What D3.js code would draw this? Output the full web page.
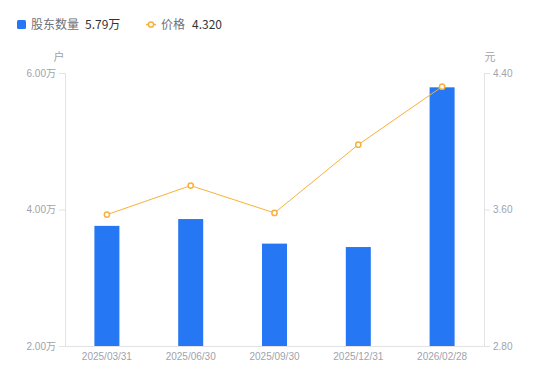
<!DOCTYPE html>
<html><head><meta charset="utf-8">
<script src="https://cdn.jsdelivr.net/npm/d3@7"></script>
<style>body{margin:0;background:#fff;font-family:"Noto Sans CJK SC","Noto Sans",sans-serif;}</style>
</head><body>
<svg id="c" width="550" height="381"></svg>
<script>
const categories = ["2025/03/31","2025/06/30","2025/09/30","2025/12/31","2026/02/28"];
const holders = [3.76, 3.86, 3.50, 3.45, 5.79];   // 万户
const prices = [3.57, 3.74, 3.58, 3.98, 4.32];    // 元
const leftTicks = [2, 4, 6];
const rightTicks = [2.8, 3.6, 4.4];

const svg = d3.select("#c");
const L = 65, R = 484, T = 73, B = 346;
const x = d3.scaleBand().domain(categories).range([L, R]);
const yL = d3.scaleLinear().domain([2, 6]).range([B, T]);
const yR = d3.scaleLinear().domain([2.8, 4.4]).range([B, T]);
const axisColor = "#e3e3e6", tickText = "#a0a3ad";
const numFont = "'Liberation Sans', Arial, 'Noto Sans CJK SC', sans-serif";

const gL = svg.append("g").attr("transform", `translate(${L},0)`)
  .call(d3.axisLeft(yL).tickValues(leftTicks).tickSize(6).tickPadding(3).tickFormat(d => d3.format(".2f")(d) + "万"));
const gR = svg.append("g").attr("transform", `translate(${R},0)`)
  .call(d3.axisRight(yR).tickValues(rightTicks).tickSize(6).tickPadding(3).tickFormat(d3.format(".2f")));
const gB = svg.append("g").attr("transform", `translate(0,${B})`)
  .call(d3.axisBottom(x).tickSize(0).tickPadding(7));
[gL, gR, gB].forEach(g => {
  g.select(".domain").attr("stroke", axisColor);
  g.selectAll(".tick line").attr("stroke", axisColor);
  g.selectAll("text").attr("fill", tickText).style("font-size", "10px").style("font-family", numFont);
});

svg.append("text").attr("x", 59).attr("y", 61).attr("text-anchor", "middle").attr("fill", tickText).style("font-size", "11px").text("户");
svg.append("text").attr("x", 490).attr("y", 61).attr("text-anchor", "middle").attr("fill", tickText).style("font-size", "11px").text("元");

const bw = 25;
svg.append("g").selectAll("rect").data(holders).join("rect")
  .attr("x", (d, i) => x(categories[i]) + x.bandwidth() / 2 - bw / 2)
  .attr("width", bw)
  .attr("y", d => yL(d))
  .attr("height", d => B - yL(d))
  .attr("fill", "#2577f3");

const lineColor = "#f7b13a";
const line = d3.line().x((d, i) => x(categories[i]) + x.bandwidth() / 2).y(d => yR(d));
svg.append("path").datum(prices).attr("d", line).attr("fill", "none").attr("stroke", lineColor).attr("stroke-width", 1);
svg.append("g").selectAll("circle").data(prices).join("circle")
  .attr("cx", (d, i) => x(categories[i]) + x.bandwidth() / 2)
  .attr("cy", d => yR(d)).attr("r", 2.6)
  .attr("fill", "#fff").attr("stroke", lineColor).attr("stroke-width", 1.5);

const lg = svg.append("g");
lg.append("rect").attr("x", 17).attr("y", 20).attr("width", 9).attr("height", 9).attr("rx", 1.5).attr("fill", "#2577f3");
lg.append("text").attr("x", 31).attr("y", 29).attr("fill", "#6e717a").style("font-size", "12px").text("股东数量");
lg.append("text").attr("x", 85).attr("y", 29).attr("fill", "#333").style("font-size", "12px").text(d3.format(".2f")(holders[4]) + "万");
lg.append("line").attr("x1", 146).attr("x2", 156).attr("y1", 24.5).attr("y2", 24.5).attr("stroke", lineColor).attr("stroke-width", 1.5);
lg.append("circle").attr("cx", 151).attr("cy", 24.5).attr("r", 2.6).attr("fill", "#fff").attr("stroke", lineColor).attr("stroke-width", 1.5);
lg.append("text").attr("x", 161).attr("y", 29).attr("fill", "#6e717a").style("font-size", "12px").text("价格");
lg.append("text").attr("x", 192).attr("y", 29).attr("fill", "#333").style("font-size", "12px").text(d3.format(".3f")(prices[4]));
</script>
</body></html>
